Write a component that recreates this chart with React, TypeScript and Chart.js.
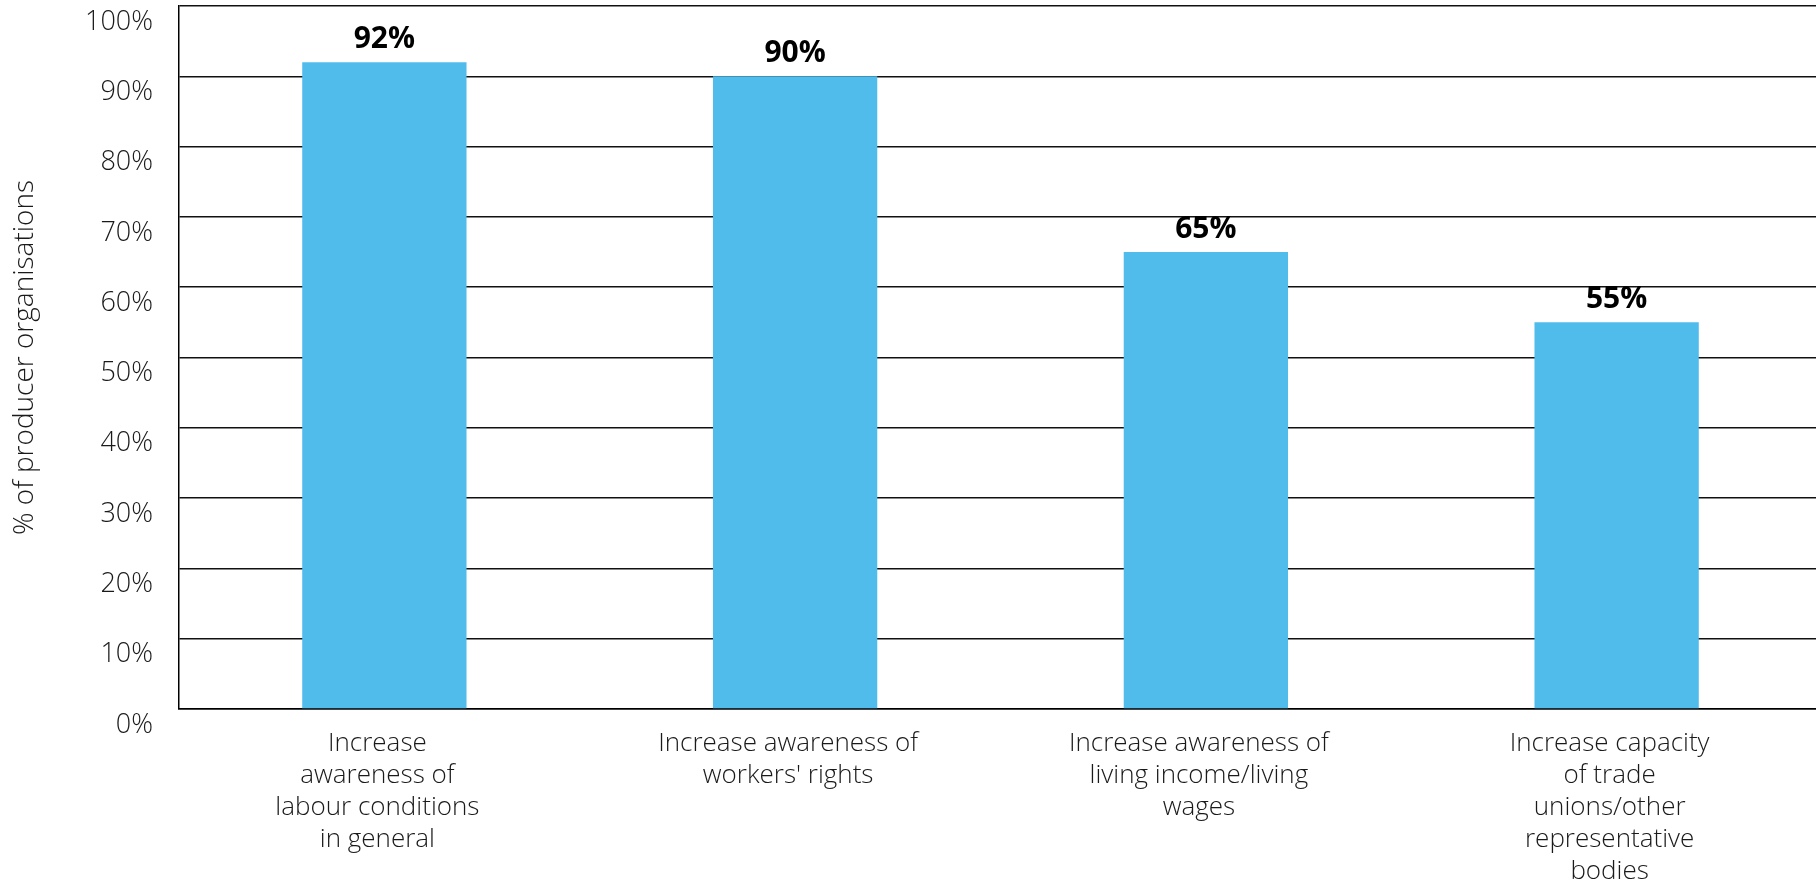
import React, { useEffect, useRef } from "react";
import { Chart, registerables } from "chart.js";

Chart.register(...registerables);

const categories: string[][] = [
  ["Increase", "awareness of", "labour conditions", "in general"],
  ["Increase awareness of", "workers' rights"],
  ["Increase awareness of", "living income/living", "wages"],
  ["Increase capacity", "of trade", "unions/other", "representative", "bodies"],
];
const values: number[] = [92, 90, 65, 55];
const yTicks: number[] = [0, 10, 20, 30, 40, 50, 60, 70, 80, 90, 100];
const yTitle = "% of producer organisations";

const FONT = "'Open Sans', Lato, sans-serif";
const TEXT = "#1a1a1a";
const BAR = "#50BCEC";

const valueLabels = {
  id: "valueLabels",
  afterDatasetsDraw(chart: any) {
    const ctx = chart.ctx;
    const meta = chart.getDatasetMeta(0);
    ctx.save();
    ctx.font = `bold 30px ${FONT}`;
    ctx.fillStyle = "#000000";
    ctx.textAlign = "center";
    ctx.textBaseline = "alphabetic";
    meta.data.forEach((el: any, i: number) => {
      ctx.fillText(`${values[i]}%`, el.x, el.y - 14);
    });
    ctx.restore();
  },
};

export default function App() {
  const ref = useRef<HTMLCanvasElement | null>(null);
  useEffect(() => {
    document.body.style.margin = "0";
    document.body.style.overflow = "hidden";
    const chart = new Chart(ref.current as HTMLCanvasElement, {
      type: "bar",
      data: {
        labels: categories,
        datasets: [
          {
            data: values,
            backgroundColor: BAR,
            barPercentage: 0.4,
            categoryPercentage: 1,
          },
        ],
      },
      options: {
        responsive: false,
        animation: false,
        layout: { padding: { top: 6, right: 0, bottom: 0, left: 0 } },
        plugins: {
          legend: { display: false },
          tooltip: { enabled: false },
        },
        scales: {
          x: {
            grid: { display: false, drawTicks: false },
            border: { display: true, color: "#000", width: 1.5 },
            ticks: {
              color: TEXT,
              font: { family: FONT, size: 26, weight: 300, lineHeight: 1.23 },
              padding: 19,
              labelOffset: -7,
              maxRotation: 0,
              autoSkip: false,
            },
            afterFit(scale: any) {
              scale.height = 174;
              scale.paddingLeft = 0;
              scale.paddingRight = 0;
            },
          },
          y: {
            min: 0,
            max: 100,
            afterBuildTicks(scale: any) {
              scale.ticks = yTicks.map((v) => ({ value: v }));
            },
            grid: { color: "#111", lineWidth: 1.5, drawTicks: false },
            border: { display: true, color: "#000", width: 1.5 },
            ticks: {
              color: TEXT,
              font: { family: FONT, size: 27, weight: 300 },
              padding: 26,
              labelOffset: 16,
              callback: (v: any) => `${v}%`,
            },
            title: {
              display: true,
              text: yTitle,
              color: TEXT,
              font: { family: FONT, size: 28, weight: 300 },
              padding: { top: 8, bottom: 0 },
            },
            afterFit(scale: any) {
              scale.width = 179;
              scale.paddingTop = 0;
              scale.paddingBottom = 0;
            },
          },
        },
      },
      plugins: [valueLabels],
    });
    return () => chart.destroy();
  }, []);
  return (
    <div style={{ width: 1816, height: 883, overflow: "hidden" }}>
      <canvas ref={ref} width={1822} height={883} />
    </div>
  );
}
